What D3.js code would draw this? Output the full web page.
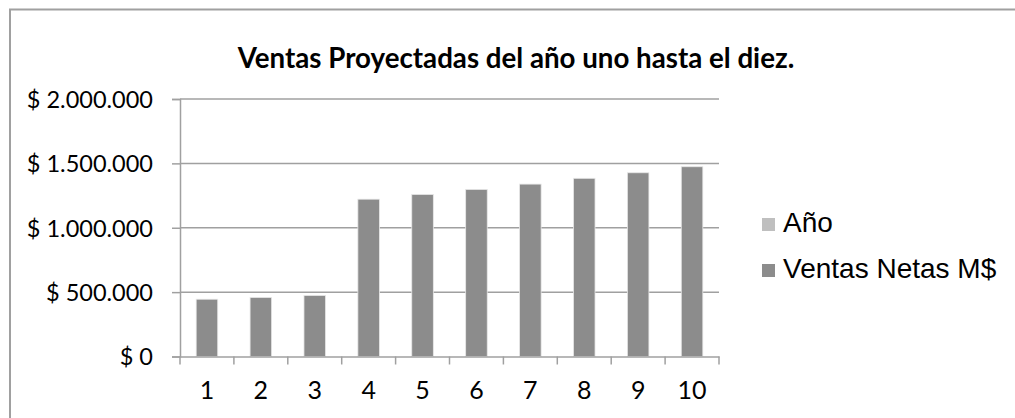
<!DOCTYPE html>
<meta charset="utf-8">
<script src="https://cdn.jsdelivr.net/npm/d3@7"></script>
<style>
body { margin:0; background:#fff; overflow:hidden; }
.tick text { font-family:'Lato'; }
</style>
<svg width="1015" height="418"></svg>
<script>
// data
var anios = [1, 2, 3, 4, 5, 6, 7, 8, 9, 10];
var ventas = [445000, 459000, 474000, 1222000, 1259000, 1298000, 1339000, 1384000, 1427000, 1474000];
var yTicks = [0, 500000, 1000000, 1500000, 2000000];
var seriesNames = ['Año', 'Ventas Netas M$'];
var seriesColors = ['#bfbfbf', '#8c8c8c'];

var svg = d3.select('svg');

// outer frame
svg.append('rect')
    .attr('x', 10).attr('y', 9.5)
    .attr('width', 1020).attr('height', 430)
    .attr('fill', 'none')
    .attr('stroke', '#a0a0a0')
    .attr('stroke-width', 2)

var plotLeft = 180, plotRight = 719, plotTop = 99, plotBottom = 356.5;

var x = d3.scaleBand()
    .domain(anios)
    .range([plotLeft, plotRight])
    .paddingInner(0.6)
    .paddingOuter(0.3)
var xOuter = d3.scaleBand().domain(anios).range([plotLeft, plotRight])
var y = d3.scaleLinear().domain([0, 2000000]).range([plotBottom, plotTop])

// gridlines
svg.append('g')
    .selectAll('line')
    .data(yTicks.slice(1))
    .enter().append('line')
    .attr('x1', plotLeft).attr('x2', plotRight)
    .attr('y1', function(d) { return y(d) })
    .attr('y2', function(d) { return y(d) })
    .attr('stroke', '#a0a0a0')
    .attr('stroke-width', 1.5)

// stacked bars: Año underneath (practically invisible) then ventas
var rows = anios.map(function(a, i) { return { anio: a, 'Año': a, 'Ventas Netas M$': ventas[i] } })
var stack = d3.stack().keys(seriesNames)(rows)

svg.append('g')
    .selectAll('g')
    .data(stack)
    .enter().append('g')
    .attr('fill', function(d, i) { return seriesColors[i] })
    .selectAll('rect')
    .data(function(d) { return d })
    .enter().append('rect')
    .attr('x', function(d) { return x(d.data.anio) })
    .attr('width', x.bandwidth())
    .attr('y', function(d) { return y(d[1]) })
    .attr('height', function(d) { return y(d[0]) - y(d[1]) })
    .attr('stroke', '#e8e8e8')
    .attr('stroke-width', 0.8)

// y axis
var fmt = function(v) { return '$ ' + d3.format(',')(v).replace(/,/g, '.') }
var yAxis = svg.append('g')
    .attr('transform', 'translate(' + plotLeft + ',0)')
    .call(d3.axisLeft(y).tickValues(yTicks).tickSize(8).tickPadding(19).tickFormat(fmt))
yAxis.select('.domain').attr('stroke', '#a0a0a0').attr('stroke-width', 1.5)
yAxis.selectAll('.tick line').attr('stroke', '#a0a0a0').attr('stroke-width', 1.5)
yAxis.selectAll('.tick text').attr('font-size', 23.5).attr('fill', '#000').attr('dy', '0.36em')

// x axis
var xAxis = svg.append('g')
    .attr('transform', 'translate(0,' + plotBottom + ')')
    .call(d3.axisBottom(xOuter).tickSize(0).tickPadding(25))
xAxis.select('.domain').attr('stroke', '#a0a0a0').attr('stroke-width', 1.5)
xAxis.selectAll('.tick text').attr('font-size', 25).attr('fill', '#000')
xAxis.append('g')
    .selectAll('line')
    .data(anios.concat([null]))
    .enter().append('line')
    .attr('x1', function(d, i) { return plotLeft + i * xOuter.step() })
    .attr('x2', function(d, i) { return plotLeft + i * xOuter.step() })
    .attr('y1', 0).attr('y2', 8)
    .attr('stroke', '#a0a0a0')
    .attr('stroke-width', 1.5)

// title
svg.append('text')
    .attr('x', 516).attr('y', 68)
    .attr('text-anchor', 'middle')
    .attr('font-family', 'Lato')
    .attr('font-weight', 'bold')
    .attr('font-size', 27.7)
    .text('Ventas Proyectadas del año uno hasta el diez.')

// legend
var legend = svg.append('g')
    .selectAll('g')
    .data(seriesNames)
    .enter().append('g')
    .attr('transform', function(d, i) { return 'translate(762,' + (218 + i * 46) + ')' })
legend.append('rect')
    .attr('width', 13).attr('height', 13)
    .attr('fill', function(d, i) { return seriesColors[i] })
legend.append('text')
    .attr('x', 21).attr('y', 14)
    .attr('font-family', 'Liberation Sans')
    .attr('font-size', 28)
    .text(function(d) { return d })
</script>
